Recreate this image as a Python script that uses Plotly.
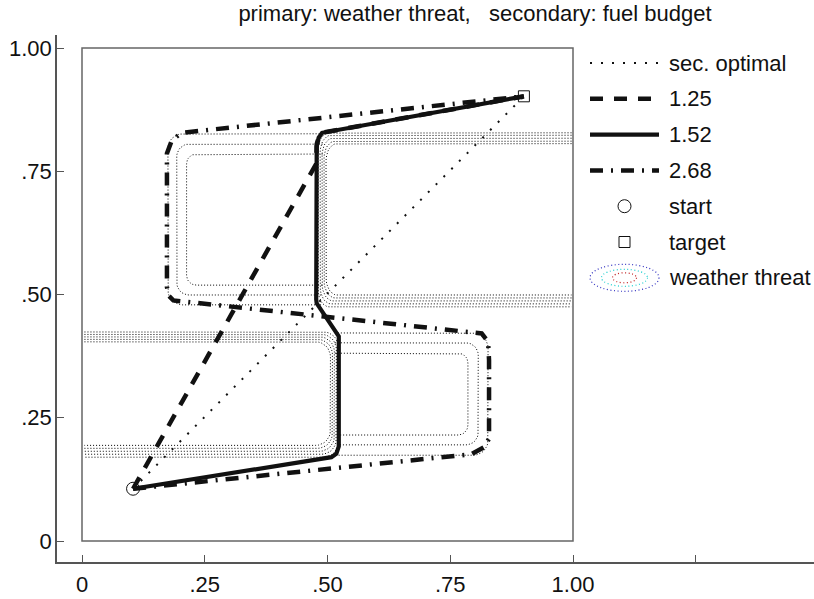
import numpy as np
import plotly.graph_objects as go

# ---------------- data ----------------
series_names = ['sec. optimal', '1.25', '1.52', '2.68']
marker_names = ['start', 'target']
threat_name = 'weather threat'

start_x, start_y = [0.104], [0.106]
target_x, target_y = [0.900], [0.902]

sec_opt_x = [0.104, 0.900]
sec_opt_y = [0.106, 0.902]

p125_x = [0.104, 0.477, 0.478, 0.482, 0.489, 0.900]
p125_y = [0.106, 0.765, 0.805, 0.818, 0.828, 0.902]

p152_x = [0.104, 0.508, 0.518, 0.523, 0.523, 0.478, 0.477, 0.478, 0.482, 0.489, 0.900]
p152_y = [0.106, 0.170, 0.177, 0.192, 0.415, 0.482, 0.490, 0.800, 0.818, 0.828, 0.902]

p268_x = [0.104, 0.793, 0.820, 0.829, 0.829, 0.827, 0.814, 0.186, 0.177, 0.173, 0.173, 0.183, 0.203, 0.900]
p268_y = [0.106, 0.176, 0.191, 0.208, 0.367, 0.404, 0.421, 0.488, 0.497, 0.515, 0.786, 0.813, 0.828, 0.902]

# weather threat contour levels (edges of rounded contour rings)
ug_left = [0.175, 0.193, 0.213]          # upper obstacle, gradual side
ug_top = [0.826, 0.805, 0.785]
ug_bot = [0.479, 0.499, 0.519]
ug_open = 0.490
us_left = [0.481, 0.485, 0.489, 0.493, 0.497]   # upper obstacle, steep side
us_top = [0.828, 0.823, 0.817, 0.811, 0.806]
us_bot = [0.475, 0.481, 0.487, 0.493, 0.499]
us_open = 0.997
ls_right = [0.522, 0.518, 0.514, 0.510, 0.506]  # lower obstacle, steep side
ls_top = [0.424, 0.419, 0.414, 0.409, 0.404]
ls_bot = [0.170, 0.176, 0.182, 0.188, 0.194]
ls_open = 0.005
lg_right = [0.827, 0.807, 0.786]          # lower obstacle, gradual side
lg_top = [0.422, 0.402, 0.381]
lg_bot = [0.174, 0.195, 0.215]
lg_open = 0.515

xtick_vals = [0, 0.25, 0.5, 0.75, 1.0, 1.25]
xtick_text = ['0', '.25', '.50', '.75', '1.00', '']
ytick_vals = [0, 0.25, 0.5, 0.75, 1.0]
ytick_text = ['0', '.25', '.50', '.75', '1.00']

title_text = 'primary: weather threat,   secondary: fuel budget'

# ---------------- styles ----------------
FONT = 'Liberation Sans, Arial, Helvetica, sans-serif'
FS = 22
INK = '#111111'
AX = '#555555'
dash_sec = '2px,9px'
dash_125 = '13px,11px'
dash_268 = '13px,8px,2px,8px'
dash_cont = '1px,2px'


def open_ring(edge_x, open_x, top, bot, rx, ry):
    """Rounded contour ring, closed on the edge_x side, open towards open_x."""
    s = 1.0 if open_x > edge_x else -1.0
    t = np.linspace(0, np.pi / 2, 9)
    xs = [open_x]
    ys = [top]
    cx, cy = edge_x + s * rx, top - ry
    xs += list(cx - s * rx * np.sin(t))
    ys += list(cy + ry * np.cos(t))
    cx, cy = edge_x + s * rx, bot + ry
    xs += list(cx - s * rx * np.cos(t))
    ys += list(cy - ry * np.sin(t))
    xs.append(open_x)
    ys.append(bot)
    return xs, ys


fig = go.Figure()

cont_line = dict(color='#000000', width=1, dash=dash_cont)
rings = []
for i in range(len(ug_left)):
    rings.append(open_ring(ug_left[i], ug_open, ug_top[i], ug_bot[i], 0.03 - 0.005 * i, 0.03 - 0.005 * i))
for i in range(len(us_left)):
    rings.append(open_ring(us_left[i], us_open, us_top[i], us_bot[i], 0.022, 0.035))
for i in range(len(ls_right)):
    rings.append(open_ring(ls_right[i], ls_open, ls_top[i], ls_bot[i], 0.03, 0.03))
for i in range(len(lg_right)):
    rings.append(open_ring(lg_right[i], lg_open, lg_top[i], lg_bot[i], 0.03 - 0.005 * i, 0.03 - 0.005 * i))
for xs, ys in rings:
    fig.add_trace(go.Scatter(x=xs, y=ys, mode='lines', line=cont_line,
                             showlegend=False, hoverinfo='skip'))

styles = [
    dict(color=INK, width=2, dash=dash_sec),
    dict(color=INK, width=4.5, dash=dash_125),
    dict(color=INK, width=4.2),
    dict(color=INK, width=4.5, dash=dash_268),
]
paths = [(sec_opt_x, sec_opt_y), (p268_x, p268_y), (p125_x, p125_y), (p152_x, p152_y)]
order = [0, 3, 1, 2]
for k, (px, py) in zip(order, paths):
    fig.add_trace(go.Scatter(x=px, y=py, mode='lines', line=styles[k], name=series_names[k],
                             showlegend=False))

mk_start = dict(symbol='circle-open', size=13, color=INK, line=dict(width=1, color=INK))
mk_target = dict(symbol='square-open', size=11, color=INK, line=dict(width=1, color=INK))
fig.add_trace(go.Scatter(x=start_x, y=start_y, mode='markers', marker=mk_start,
                         name=marker_names[0], showlegend=False))
fig.add_trace(go.Scatter(x=target_x, y=target_y, mode='markers', marker=mk_target,
                         name=marker_names[1], showlegend=False))

# plot frame [0,1]x[0,1]
fig.add_shape(type='rect', xref='x', yref='y', x0=0, x1=1, y0=0, y1=1,
              line=dict(color='#666666', width=1.5), layer='below')

# ---------------- hand-made legend on an overlay axis (pixel units) ----------------
L_X0, L_X1, L_TX = 590, 659, 667
rows = [63 + 35.8 * i for i in range(7)]
for i in range(4):
    fig.add_trace(go.Scatter(x=[L_X0, L_X1], y=[rows[i], rows[i]], mode='lines',
                             line=styles[i], xaxis='x2', yaxis='y2',
                             showlegend=False, hoverinfo='skip'))
fig.add_trace(go.Scatter(x=[(L_X0 + L_X1) / 2], y=[rows[4]], mode='markers', marker=mk_start,
                         xaxis='x2', yaxis='y2', showlegend=False, hoverinfo='skip'))
fig.add_trace(go.Scatter(x=[(L_X0 + L_X1) / 2], y=[rows[5]], mode='markers', marker=mk_target,
                         xaxis='x2', yaxis='y2', showlegend=False, hoverinfo='skip'))
cx, cy = (L_X0 + L_X1) / 2, rows[6]
for (hw, hh, col) in [(34.5, 13.5, '#3030c0'), (23, 8.5, '#20d0d0'), (12, 5, '#c02020')]:
    fig.add_shape(type='circle', xref='x2', yref='y2', x0=cx - hw, x1=cx + hw,
                  y0=cy - hh, y1=cy + hh, line=dict(color=col, width=1.2, dash='1px,2.5px'))
labels = series_names + marker_names + [threat_name]
for i, lab in enumerate(labels):
    fig.add_annotation(x=L_TX, y=rows[i], xref='x2', yref='y2', text=lab, showarrow=False,
                       xanchor='left', yanchor='middle', font=dict(size=FS, color=INK, family=FONT))

W, H = 814, 599
ML, MR, MT, MB = 57, 0, 35, 37
px_per_x, px_per_y = 491.0, 493.0
x0_px, y0_px = 82, 541
x_range = [(ML - x0_px) / px_per_x, (W - MR - x0_px) / px_per_x]
y_range = [-(H - MB - y0_px) / px_per_y, (y0_px - MT) / px_per_y]

fig.update_layout(
    width=W, height=H, margin=dict(l=ML, r=MR, t=MT, b=MB, pad=0),
    paper_bgcolor='white', plot_bgcolor='white',
    font=dict(family=FONT, size=FS, color=INK),
    title=dict(text=title_text, x=475 / W, xref='container', xanchor='center', y=1 - 13 / H,
               yref='container', yanchor='middle', font=dict(size=FS, color=INK, family=FONT)),
    xaxis=dict(range=x_range, tickvals=xtick_vals, ticktext=xtick_text, showgrid=False,
               zeroline=False, showline=True, linecolor=AX, linewidth=1.5, ticks='inside',
               ticklen=7, tickwidth=1, tickcolor=AX, ticklabelstandoff=2, fixedrange=True),
    yaxis=dict(range=y_range, tickvals=ytick_vals, ticktext=ytick_text, showgrid=False,
               zeroline=False, showline=True, linecolor=AX, linewidth=1.5, ticks='inside',
               ticklen=7, tickwidth=1, tickcolor=AX, ticklabelstandoff=-1, fixedrange=True),
    xaxis2=dict(range=[ML, W - MR], overlaying='x', visible=False, fixedrange=True),
    yaxis2=dict(range=[H - MB, MT], overlaying='y', visible=False, fixedrange=True),
    showlegend=False,
)

fig.write_html('out.html', config={'displayModeBar': False},
               post_script="document.body.style.margin='0px';document.body.style.padding='0px';")
